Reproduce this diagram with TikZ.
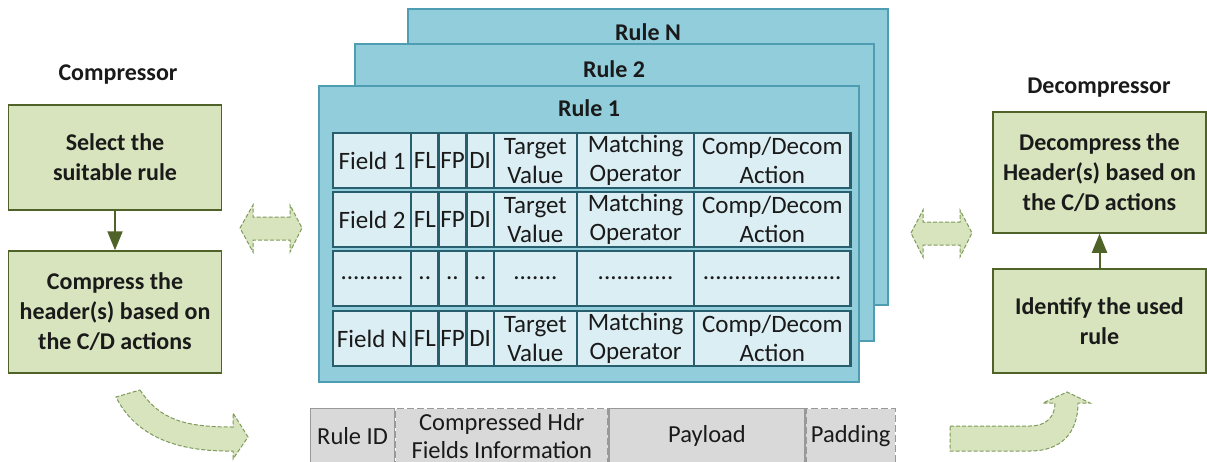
\documentclass[tikz,border=0pt]{standalone}
\usepackage{fontspec}
\setmainfont{Carlito}
\definecolor{scGreen}{HTML}{D7E4BD}
\definecolor{scGreenEdge}{HTML}{4F6228}
\definecolor{scArrowEdge}{HTML}{7F9A5A}
\definecolor{scRule}{HTML}{92CDDC}
\definecolor{scRuleEdge}{HTML}{4F9DB2}
\definecolor{scCell}{HTML}{DAEEF3}
\definecolor{scCellEdge}{HTML}{275F6E}
\definecolor{scPkt}{HTML}{D9D9D9}
\definecolor{scPktEdge}{HTML}{999999}
\definecolor{scInk}{HTML}{1A1A1A}
\usetikzlibrary{arrows.meta,positioning}

\tikzset{
  stepbox/.style={draw=scGreenEdge, fill=scGreen, line width=1.5pt, minimum width=213pt,
    inner sep=0pt, align=center, text=scInk, font=\bfseries\fontsize{24}{30}\selectfont},
  sidetitle/.style={text=scInk, font=\bfseries\fontsize{24}{30}\selectfont},
  flow/.style={draw=scGreenEdge, line width=2pt, -{Triangle[length=19pt,width=15pt]}},
  card/.style={fill=scRule, draw=scRuleEdge, line width=1.5pt},
  cardtitle/.style={text=scInk, font=\bfseries\fontsize{24}{30}\selectfont},
  cell/.style={draw=scCellEdge, fill=scCell, line width=1.2pt, minimum height=54pt, inner sep=0pt,
    align=center, text=scInk, font=\fontsize{25}{29}\selectfont},
  rowline/.style={draw=scCellEdge, line width=2.2pt},
  pkt/.style={draw=scPktEdge, fill=scPkt, line width=1.2pt, minimum height=54pt, inner sep=0pt,
    align=center, text=scInk, font=\fontsize{24.5}{28}\selectfont},
  varfield/.style={dashed, dash pattern=on 7pt off 3pt},
  bigarrow/.style={fill=scGreen, draw=scArrowEdge, line width=1pt, dashed, dash pattern=on 4pt off 2pt}
}

\begin{document}
\begin{tikzpicture}[x=1pt, y=-1pt]
  \useasboundingbox (0,0) rectangle (1207,461);

  % compressor side
  \node[sidetitle] (compT) at (118,75) {Compressor};
  \node[stepbox, minimum height=105pt] (sel) at (115,157.5) {Select the\\suitable rule};
  \node[stepbox, minimum height=122pt] (comp) at (115,312) {Compress the\\header(s) based on\\the C/D actions};
  \draw[flow] (sel) -- (comp);

  % decompressor side
  \node[sidetitle] (decompT) at (1099,88) {Decompressor};
  \node[stepbox, minimum height=121pt] (decomp) at (1099.5,172.5) {Decompress the\\Header(s) based on\\the C/D actions};
  \node[stepbox, minimum height=104pt] (ident) at (1099.5,321) {Identify the used\\rule};
  \draw[flow] (ident) -- (decomp);

  % stack of rule cards
  \filldraw[card] (408,9) rectangle (888,305);
  \node[cardtitle] (ruleN) at (648,32) {Rule N};
  \filldraw[card] (355,44) rectangle (874,341);
  \node[cardtitle] (rule2) at (614,69) {Rule 2};
  \filldraw[card] (319,86) rectangle (859,382);
  \node[cardtitle] (rule1) at (589,108) {Rule 1};

  % field rows of rule 1
  \foreach \r/\y/\f in {a/133/Field 1, b/192/Field 2, n/311/Field N} {
    \node[cell, minimum width=77pt, anchor=north west] (\r-fld) at (333,\y) {\f};
    \node[cell, minimum width=26pt, right=0pt of \r-fld] (\r-fl) {FL};
    \node[cell, minimum width=27pt, right=0pt of \r-fl] (\r-fp) {FP};
    \node[cell, minimum width=26pt, right=0pt of \r-fp] (\r-di) {DI};
    \node[cell, minimum width=82pt, right=0pt of \r-di] (\r-tv) {Target\\Value};
    \node[cell, minimum width=116pt, right=0pt of \r-tv] (\r-mo) {Matching\\Operator};
    \node[cell, minimum width=155pt, right=0pt of \r-mo] (\r-act) {Comp/Decom\\Action};
    \draw[rowline] (\r-fld.north west) rectangle (\r-act.south east);
  }
  \node[cell, minimum width=77pt, anchor=north west] (d-fld) at (333,251) {..........};
  \node[cell, minimum width=26pt, right=0pt of d-fld] (d-fl) {..};
  \node[cell, minimum width=27pt, right=0pt of d-fl] (d-fp) {..};
  \node[cell, minimum width=26pt, right=0pt of d-fp] (d-di) {..};
  \node[cell, minimum width=82pt, right=0pt of d-di] (d-tv) {.......};
  \node[cell, minimum width=116pt, right=0pt of d-tv] (d-mo) {............};
  \node[cell, minimum width=155pt, right=0pt of d-mo] (d-act) {......................};
  \draw[rowline] (d-fld.north west) rectangle (d-act.south east);

  % compressed packet
  \node[pkt, minimum width=84pt, anchor=north west] (pid) at (310,408) {Rule ID};
  \node[pkt, varfield, minimum width=212pt, right=0pt of pid] (phdr) {Compressed Hdr\\Fields Information};
  \node[pkt, minimum width=196pt, right=0pt of phdr] (ppay) {Payload};
  \node[pkt, varfield, minimum width=89pt, right=0pt of ppay] (ppad) {Padding};

  % exchange arrows
  \filldraw[bigarrow] (240,228) -- (253,205) -- (253,217) -- (290,217) -- (290,205) -- (302,228)
    -- (290,252) -- (290,240) -- (253,240) -- (253,252) -- cycle;
  \filldraw[bigarrow] (911,233) -- (923,210) -- (923,222) -- (960,222) -- (960,210) -- (972,233)
    -- (960,257) -- (960,245) -- (923,245) -- (923,257) -- cycle;

  % curved arrows to and from the packet
  \filldraw[bigarrow] (140,390) .. controls (160,420) and (185,427) .. (233,427) -- (233,413) -- (248,437)
    -- (233,459) -- (233,451) .. controls (175,452) and (135,435) .. (116,397) -- cycle;
  \filldraw[bigarrow] (950,426) -- (1030,426) .. controls (1047,426) and (1055,416) .. (1055,403)
    -- (1043,403) -- (1067,392) -- (1090,403) -- (1078,403) .. controls (1078,432) and (1062,451) .. (1030,451)
    -- (950,451) -- cycle;
\end{tikzpicture}
\end{document}
